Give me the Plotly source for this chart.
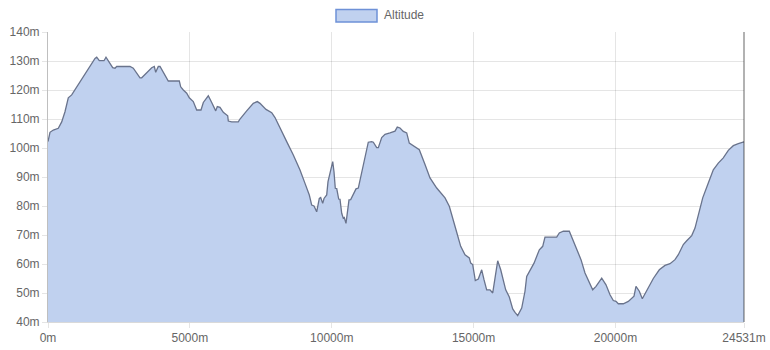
import plotly.graph_objects as go

distance_m = [0, 70, 187, 363, 483, 599, 715, 775, 835, 1657, 1716, 1808, 1974, 2044, 2210, 2280,
              2361, 2421, 2890, 3006, 3243, 3303, 3655, 3747, 3796, 3888, 3948, 4064, 4240, 4628,
              4677, 4769, 4889, 4980, 5121, 5241, 5393, 5474, 5569, 5650, 5770, 5911, 5967, 6062,
              6179, 6334, 6355, 6475, 6707, 6767, 7003, 7236, 7377, 7472, 7684, 7885, 8001, 8177,
              8413, 8646, 8882, 9058, 9210, 9294, 9375, 9470, 9562, 9611, 9682, 9728, 9823, 9869,
              9964, 10035, 10080, 10126, 10176, 10246, 10292, 10352, 10408, 10443, 10503, 10563,
              10609, 10669, 10761, 10856, 10937, 11057, 11173, 11289, 11409, 11466, 11585, 11642,
              11762, 11878, 12054, 12230, 12311, 12407, 12523, 12643, 12734, 12875, 13087, 13288,
              13464, 13700, 13993, 14144, 14264, 14380, 14546, 14698, 14849, 14899, 14969, 15061,
              15166, 15226, 15286, 15367, 15462, 15579, 15674, 15755, 15850, 15956, 16072, 16132,
              16259, 16379, 16460, 16555, 16696, 16812, 16872, 16989, 17130, 17317, 17436, 17517,
              17930, 18021, 18162, 18374, 18515, 18691, 18786, 18927, 19078, 19198, 19315, 19516,
              19667, 19808, 19925, 20020, 20101, 20277, 20453, 20654, 20724, 20841, 20947, 21102,
              21335, 21546, 21747, 21923, 22099, 22216, 22392, 22512, 22688, 22804, 22921, 23076,
              23273, 23449, 23625, 23801, 23978, 24154, 24330, 24531]

altitude_m = [102.2, 105.4, 106.2, 106.8, 109.0, 112.5, 117.3, 118.0, 118.3, 130.9, 131.3, 130.1,
              130.1, 131.3, 128.6, 127.7, 127.5, 128.1, 128.1, 127.5, 124.2, 124.2, 127.7, 128.1,
              126.1, 128.1, 128.1, 126.3, 123.1, 123.1, 121.1, 120.0, 118.9, 117.3, 116.0, 113.1,
              113.1, 115.7, 116.9, 118.0, 115.7, 112.8, 114.3, 114.0, 112.3, 111.1, 109.3, 109.0,
              109.0, 110.0, 112.8, 115.4, 116.0, 115.4, 113.3, 112.2, 110.5, 106.8, 102.2, 97.6,
              92.4, 87.8, 83.8, 80.3, 80.0, 78.0, 82.6, 82.9, 80.9, 82.6, 83.8, 88.4, 91.8, 95.3,
              91.8, 86.1, 86.0, 82.4, 82.3, 77.5, 75.8, 76.0, 74.0, 78.6, 82.1, 82.2, 83.8, 85.9,
              86.2, 91.8, 97.0, 102.0, 102.2, 102.0, 100.1, 100.1, 103.6, 104.7, 105.2, 105.8,
              107.2, 106.9, 105.7, 105.2, 101.7, 100.9, 99.4, 94.3, 89.7, 86.2, 82.8, 79.9, 76.2,
              71.8, 66.1, 63.2, 62.1, 60.3, 59.8, 54.3, 54.8, 56.3, 58.0, 54.6, 51.1, 51.1, 50.0,
              55.1, 61.1, 58.0, 54.0, 51.1, 48.6, 44.5, 43.3, 42.2, 44.8, 50.6, 55.7, 58.0, 60.3,
              64.9, 66.1, 69.3, 69.3, 70.7, 71.3, 71.3, 67.8, 63.8, 61.5, 56.9, 53.4, 51.1, 52.3,
              55.1, 52.8, 49.4, 47.4, 47.1, 46.3, 46.3, 47.1, 48.9, 52.3, 50.6, 48.0, 50.6, 55.0,
              58.0, 59.5, 60.1, 61.5, 63.2, 66.7, 68.0, 69.8, 72.4, 77.0, 82.8, 87.9, 92.5, 94.8,
              96.6, 99.2, 100.8, 101.5, 102.1]

x_tick_vals = [0, 5000, 10000, 15000, 20000, 24531]
x_tick_text = ["0m", "5000m", "10000m", "15000m", "20000m", "24531m"]
y_tick_vals = [40, 50, 60, 70, 80, 90, 100, 110, 120, 130, 140]
y_tick_text = [f"{v}m" for v in y_tick_vals]
series_name = "Altitude"

FILL = "rgba(192,209,239,1)"
LINE = "rgba(105,115,140,1)"
GRID = "rgba(0,0,0,0.1)"
FONT = "Liberation Sans, Arial, sans-serif"

fig = go.Figure()
fig.add_trace(go.Scatter(
    x=distance_m, y=altitude_m, mode="lines", fill="tozeroy",
    fillcolor=FILL, line=dict(color=LINE, width=1.3), name=series_name,
    showlegend=False, hoverinfo="x+y",
))

fig.update_layout(
    width=770, height=350,
    margin=dict(l=48, r=26, t=32, b=28),
    paper_bgcolor="white", plot_bgcolor="white",
    font=dict(family=FONT, size=12, color="#666"),
    xaxis=dict(
        range=[0, 24531], tickvals=x_tick_vals, ticktext=x_tick_text,
        showgrid=True, gridcolor=GRID, gridwidth=1,
        ticks="outside", ticklen=5, tickcolor=GRID,
        showline=True, linecolor="rgba(0,0,0,0.15)", linewidth=1,
        zeroline=False, automargin=False,
        tickfont=dict(family=FONT, size=12, color="#666"),
    ),
    yaxis=dict(
        range=[40, 140], tickvals=y_tick_vals, ticktext=y_tick_text,
        showgrid=True, gridcolor=GRID, gridwidth=1,
        ticks="outside", ticklen=5, tickcolor=GRID,
        showline=True, linecolor="rgba(0,0,0,0.25)", linewidth=1,
        zeroline=False, automargin=False,
        tickfont=dict(family=FONT, size=12, color="#666"),
    ),
)

# right-edge border line (like chart.js last grid line)
fig.add_shape(type="line", xref="paper", yref="paper", x0=1, x1=1, y0=0, y1=1,
              line=dict(color="rgba(0,0,0,0.3)", width=2))

# custom legend box + label
px_w, px_h = 696, 290
fig.add_shape(type="rect", xref="paper", yref="paper",
              x0=(336 - 48) / px_w, x1=(377 - 48) / px_w,
              y0=(322 - 22) / px_h, y1=(322 - 9.5) / px_h,
              fillcolor=FILL, line=dict(color="rgba(110,145,215,1)", width=1.5))
fig.add_annotation(text=series_name, xref="paper", yref="paper",
                   x=(382 - 48) / px_w, y=(322 - 15.5) / px_h,
                   xanchor="left", yanchor="middle", showarrow=False,
                   font=dict(family=FONT, size=12, color="#666"))

fig.write_html("out.html")
